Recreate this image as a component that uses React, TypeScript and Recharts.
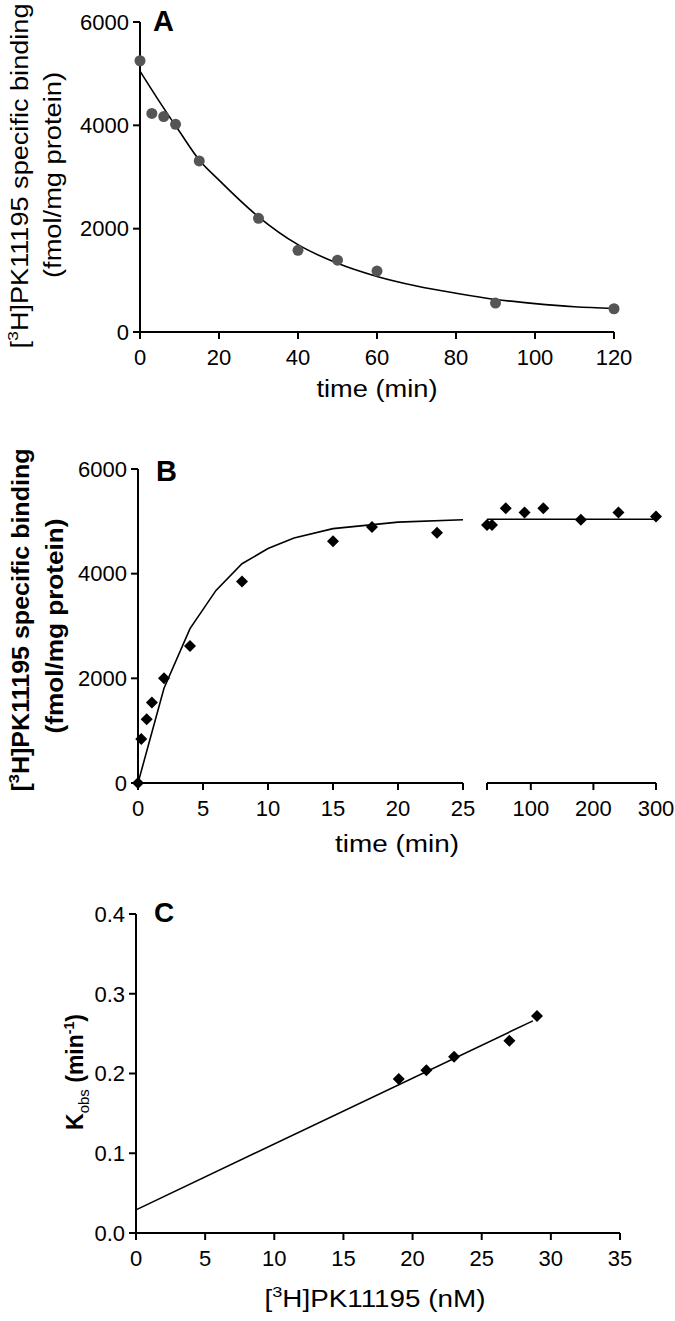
import { ComposedChart, Line, Scatter, XAxis, YAxis } from 'recharts';

// Panel A: dissociation
const dissocTime = [0, 3, 6, 9, 15, 30, 40, 50, 60, 90, 120];
const dissocBinding = [5250, 4230, 4170, 4020, 3310, 2200, 1580, 1390, 1180, 560, 450];
const dissocFitTime = [0, 5, 10, 15, 20, 30, 40, 50, 60, 70, 80, 90, 100, 110, 120];
const dissocFit = [5050, 4450, 3880, 3330, 2940, 2230, 1690, 1330, 1075, 890, 750, 630, 550, 490, 455];
const dissocTicksX = [0, 20, 40, 60, 80, 100, 120];
const bindingTicksY = [0, 2000, 4000, 6000];

// Panel B: association (broken x axis)
const assocTime = [0, 0.25, 0.67, 1.07, 2, 4, 8, 15, 18, 23];
const assocBinding = [0, 840, 1220, 1540, 2000, 2620, 3850, 4620, 4890, 4780];
const assocFitTime = [0, 2, 4, 6, 8, 10, 12, 15, 20, 25];
const assocFit = [0, 1810, 2950, 3680, 4190, 4480, 4680, 4860, 4985, 5030];
const assocLateTime = [30, 38, 60, 90, 120, 180, 240, 300];
const assocLateBinding = [4930, 4930, 5250, 5170, 5250, 5030, 5170, 5090];
const assocLateFitTime = [30, 300];
const assocLateFit = [5040, 5040];
const assocTicksX = [0, 5, 10, 15, 20, 25];
const assocLateTicksX = [30, 100, 200, 300];

// Panel C: kobs vs concentration
const conc = [19, 21, 23, 27, 29];
const kobs = [0.193, 0.204, 0.221, 0.241, 0.272];
const kobsFitConc = [0, 28.7];
const kobsFit = [0.029, 0.266];
const concTicksX = [0, 5, 10, 15, 20, 25, 30, 35];
const kobsTicksY = [0, 0.1, 0.2, 0.3, 0.4];

const zip = (xs: number[], ys: number[]) => xs.map((x, i) => ({ x, y: ys[i] }));

const FONT = '"Liberation Sans", Arial, sans-serif';
const tick = { fill: '#000', fontSize: 22, fontFamily: FONT };
const axisLine = { stroke: '#000', strokeWidth: 2 };

const grayDot = (p: any) => <circle cx={p.cx} cy={p.cy} r={5.5} fill="#555" />;
const diamond = (p: any) => (
  <polygon points={`${p.cx},${p.cy - 6} ${p.cx + 6},${p.cy} ${p.cx},${p.cy + 6} ${p.cx - 6},${p.cy}`} fill="#000" />
);

export default function App() {
  return (
    <div style={{ position: 'absolute', left: 0, top: 0, width: 675, height: 1321, background: '#fff', fontFamily: FONT }}>
      {/* A */}
      <div style={{ position: 'absolute', left: 0, top: 0 }}>
        <ComposedChart width={675} height={400} margin={{ top: 22, right: 61, bottom: 0, left: 0 }}>
          <XAxis dataKey="x" type="number" domain={[0, 120]} ticks={dissocTicksX} tick={tick} axisLine={axisLine}
            tickLine={axisLine} tickSize={7} tickMargin={10} height={68} interval={0} />
          <YAxis type="number" domain={[0, 6000]} ticks={bindingTicksY} tick={tick} axisLine={axisLine}
            tickLine={axisLine} tickSize={7} tickMargin={4} width={140} interval={0} />
          <Line data={zip(dissocFitTime, dissocFit)} dataKey="y" type="monotone" stroke="#000" strokeWidth={1.6}
            dot={false} isAnimationActive={false} />
          <Scatter data={zip(dissocTime, dissocBinding)} dataKey="y" shape={grayDot} isAnimationActive={false} />
        </ComposedChart>
      </div>

      {/* B, first segment */}
      <div style={{ position: 'absolute', left: 0, top: 440 }}>
        <ComposedChart width={480} height={400} margin={{ top: 29, right: 17, bottom: 0, left: 0 }}>
          <XAxis dataKey="x" type="number" domain={[0, 25]} ticks={assocTicksX} tick={tick} axisLine={axisLine}
            tickLine={axisLine} tickSize={7} tickMargin={10} height={57} interval={0} />
          <YAxis type="number" domain={[0, 6000]} ticks={bindingTicksY} tick={tick} axisLine={axisLine}
            tickLine={axisLine} tickSize={7} tickMargin={4} width={138} interval={0} />
          <Line data={zip(assocFitTime, assocFit)} dataKey="y" type="linear" stroke="#000" strokeWidth={1.6}
            dot={false} isAnimationActive={false} />
          <Scatter data={zip(assocTime, assocBinding)} dataKey="y" shape={diamond} isAnimationActive={false} />
        </ComposedChart>
      </div>

      {/* B, second segment */}
      <div style={{ position: 'absolute', left: 470, top: 440 }}>
        <ComposedChart width={205} height={400} margin={{ top: 29, right: 19, bottom: 0, left: 17 }}>
          <XAxis dataKey="x" type="number" domain={[30, 300]} ticks={assocLateTicksX} tick={tick}
            tickFormatter={(v: number) => (v === 30 ? '' : String(v))} axisLine={axisLine}
            tickLine={axisLine} tickSize={7} tickMargin={10} height={57} interval={0} />
          <YAxis type="number" domain={[0, 6000]} hide width={0} />
          <Line data={zip(assocLateFitTime, assocLateFit)} dataKey="y" type="linear" stroke="#000" strokeWidth={1.6}
            dot={false} isAnimationActive={false} />
          <Scatter data={zip(assocLateTime, assocLateBinding)} dataKey="y" shape={diamond} isAnimationActive={false} />
        </ComposedChart>
      </div>

      {/* C */}
      <div style={{ position: 'absolute', left: 0, top: 880 }}>
        <ComposedChart width={675} height={441} margin={{ top: 34, right: 55, bottom: 0, left: 0 }}>
          <XAxis dataKey="x" type="number" domain={[0, 35]} ticks={concTicksX} tick={tick} axisLine={axisLine}
            tickLine={axisLine} tickSize={7} tickMargin={10} height={88} interval={0} />
          <YAxis type="number" domain={[0, 0.4]} ticks={kobsTicksY} tickFormatter={(v: number) => v.toFixed(1)}
            tick={tick} axisLine={axisLine} tickLine={axisLine} tickSize={7} tickMargin={4} width={136} interval={0} />
          <Line data={zip(kobsFitConc, kobsFit)} dataKey="y" type="linear" stroke="#000" strokeWidth={1.6}
            dot={false} isAnimationActive={false} />
          <Scatter data={zip(conc, kobs)} dataKey="y" shape={diamond} isAnimationActive={false} />
        </ComposedChart>
      </div>

      {/* titles and axis labels */}
      <svg width={675} height={1321} style={{ position: 'absolute', left: 0, top: 0, pointerEvents: 'none' }}
        fontFamily={FONT} fill="#000">
        <text x={153} y={31} fontSize={29} fontWeight="bold">A</text>
        <text x={156} y={481} fontSize={29} fontWeight="bold">B</text>
        <text x={154} y={922} fontSize={28} fontWeight="bold">C</text>

        <text transform="translate(28,176) rotate(-90)" textAnchor="middle" fontSize={23}
          textLength={345} lengthAdjust="spacingAndGlyphs">
          [<tspan dy={-10} fontSize={15}>3</tspan><tspan dy={10}>H]PK11195 specific binding</tspan>
        </text>
        <text transform="translate(61,175) rotate(-90)" textAnchor="middle" fontSize={23}
          textLength={206} lengthAdjust="spacingAndGlyphs">(fmol/mg protein)</text>
        <text x={377} y={397} textAnchor="middle" fontSize={23} textLength={121} lengthAdjust="spacingAndGlyphs">time (min)</text>

        <text transform="translate(29,620) rotate(-90)" textAnchor="middle" fontSize={23} fontWeight="bold"
          textLength={343} lengthAdjust="spacingAndGlyphs">
          [<tspan dy={-10} fontSize={15}>3</tspan><tspan dy={10}>H]PK11195 specific binding</tspan>
        </text>
        <text transform="translate(63,626) rotate(-90)" textAnchor="middle" fontSize={23} fontWeight="bold"
          textLength={215} lengthAdjust="spacingAndGlyphs">(fmol/mg protein)</text>
        <text x={397} y={852} textAnchor="middle" fontSize={23} textLength={124} lengthAdjust="spacingAndGlyphs">time (min)</text>

        <text transform="translate(83,1072) rotate(-90)" textAnchor="middle" fontSize={23} fontWeight="bold">
          K<tspan dy={6} fontSize={15} fontWeight="normal">obs</tspan>
          <tspan dy={-6}> (min</tspan><tspan dy={-9} fontSize={14}>-1</tspan><tspan dy={9}>)</tspan>
        </text>
        <text x={375} y={1307} textAnchor="middle" fontSize={23} textLength={221} lengthAdjust="spacingAndGlyphs">
          [<tspan dy={-10} fontSize={15}>3</tspan><tspan dy={10}>H]PK11195 (nM)</tspan>
        </text>
      </svg>
    </div>
  );
}
